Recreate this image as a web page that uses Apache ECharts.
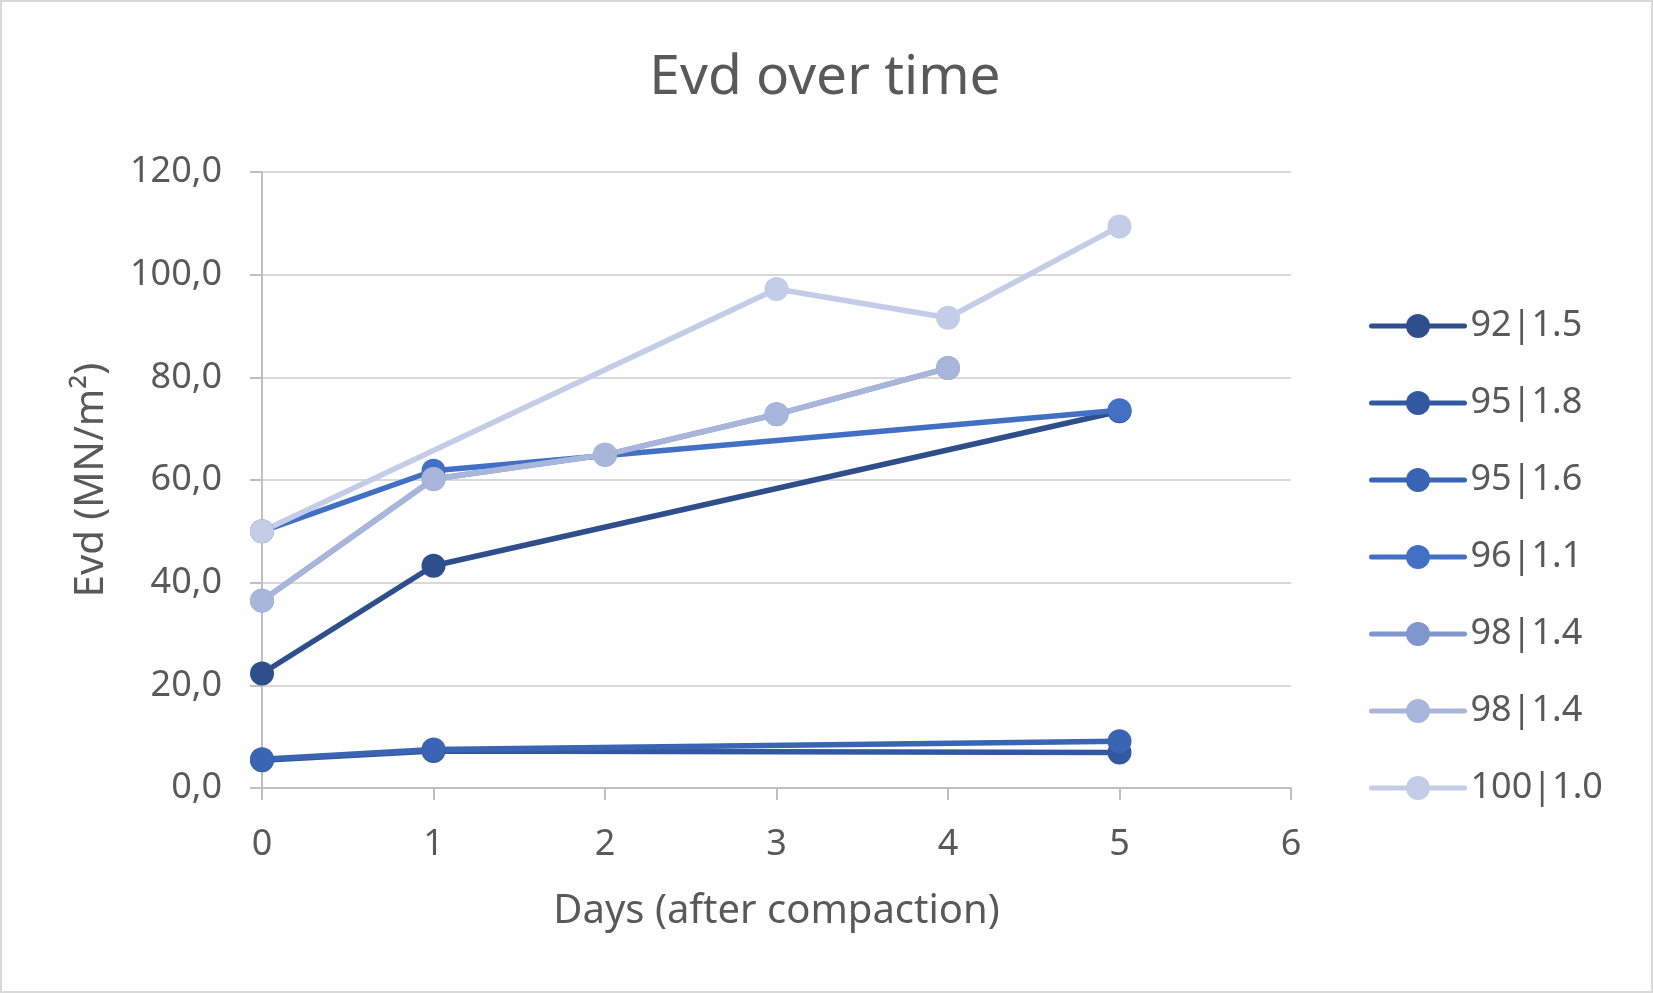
<!DOCTYPE html>
<html>
<head>
<meta charset="utf-8">
<script src="https://cdn.jsdelivr.net/npm/echarts@6/dist/echarts.min.js"></script>
<style>
html,body{margin:0;padding:0;background:#fff;}
#chart{width:1653px;height:993px;box-sizing:border-box;border:2px solid #D9D9D9;}
</style>
</head>
<body>
<div id="chart"></div>
<script>
// ---- data ----
var seriesNames = ['92|1.5','95|1.8','95|1.6','96|1.1','98|1.4','98|1.4','100|1.0'];
var days_92_15  = [0, 1, 5];
var vals_92_15  = [22.3, 43.3, 73.4];
var days_95_18  = [0, 1, 5];
var vals_95_18  = [5.4, 7.2, 6.9];
var days_95_16  = [0, 1, 5];
var vals_95_16  = [5.6, 7.5, 9.1];
var days_96_11  = [0, 1, 5];
var vals_96_11  = [50.0, 61.8, 73.6];
var days_98_14a = [0, 1, 2, 3, 4];
var vals_98_14a = [36.5, 60.2, 64.9, 72.8, 81.8];
var days_98_14b = [0, 1, 2, 3, 4];
var vals_98_14b = [36.5, 60.2, 64.9, 72.8, 81.8];
var days_100_10 = [0, 3, 4, 5];
var vals_100_10 = [50.0, 97.2, 91.6, 109.4];

var colors = ['#2E4F8C','#3458A0','#3A64B4','#4270C4','#7F96CF','#A8B6DB','#C4CDE7'];

function pairs(d, v){ return d.map(function(x,i){ return [x, v[i]]; }); }
var allData = [
  pairs(days_92_15, vals_92_15),
  pairs(days_95_18, vals_95_18),
  pairs(days_95_16, vals_95_16),
  pairs(days_96_11, vals_96_11),
  pairs(days_98_14a, vals_98_14a),
  pairs(days_98_14b, vals_98_14b),
  pairs(days_100_10, vals_100_10)
];
// unique internal keys so the legend keeps duplicate labels
var keys = seriesNames.map(function(n, i){ return n + '\u200b'.repeat(i); });

var FONT = 'Noto Sans';
var TXT = '#595959';

var chart = echarts.init(document.getElementById('chart'));
chart.setOption({
  animation: false,
  color: colors,
  title: {
    text: 'Evd over time',
    left: 818, top: 44, textAlign: 'center',
    textStyle: {fontFamily: FONT, fontSize: 55, fontWeight: 'normal', color: TXT}
  },
  legend: {
    orient: 'vertical',
    left: 1367, top: 306, padding: 0,
    itemWidth: 93, itemHeight: 30, itemGap: 41,
    lineStyle: {width: 5, cap: 'round'},
    textStyle: {fontFamily: FONT, fontSize: 36, lineHeight: 36, color: TXT, padding: [0,0,0,1]},
    data: keys.map(function(k){ return {name: k}; })
  },
  grid: {left: 260, right: 360, top: 170, bottom: 203, containLabel: false},
  xAxis: {
    type: 'value', min: 0, max: 6, interval: 1,
    name: 'Days (after compaction)', nameLocation: 'middle', nameGap: 104,
    nameTextStyle: {fontFamily: FONT, fontSize: 40, color: TXT},
    axisLine: {show: true, lineStyle: {color: '#BFBFBF', width: 2}},
    axisTick: {show: true, length: 12, lineStyle: {color: '#BFBFBF', width: 2}},
    axisLabel: {fontFamily: FONT, fontSize: 36, color: TXT, margin: 39},
    splitLine: {show: false}
  },
  yAxis: {
    type: 'value', min: 0, max: 120, interval: 20,
    name: 'Evd (MN/m²)', nameLocation: 'middle', nameGap: 150, nameRotate: 90,
    nameTextStyle: {fontFamily: FONT, fontSize: 40, color: TXT},
    axisLine: {show: true, lineStyle: {color: '#BFBFBF', width: 2}},
    axisTick: {show: true, length: 12, lineStyle: {color: '#BFBFBF', width: 2}},
    axisLabel: {fontFamily: FONT, fontSize: 36, color: TXT, margin: 40,
      formatter: function(v){ return v.toFixed(1).replace('.', ','); }},
    splitLine: {show: true, lineStyle: {color: '#D9D9D9', width: 2}}
  },
  series: allData.map(function(d, i){
    return {
      name: keys[i], type: 'line', data: d,
      symbol: 'circle', symbolSize: 24,
      lineStyle: {width: 5.5, color: colors[i], cap: 'round'},
      itemStyle: {color: colors[i]},
      clip: false
    };
  })
});
</script>
</body>
</html>
